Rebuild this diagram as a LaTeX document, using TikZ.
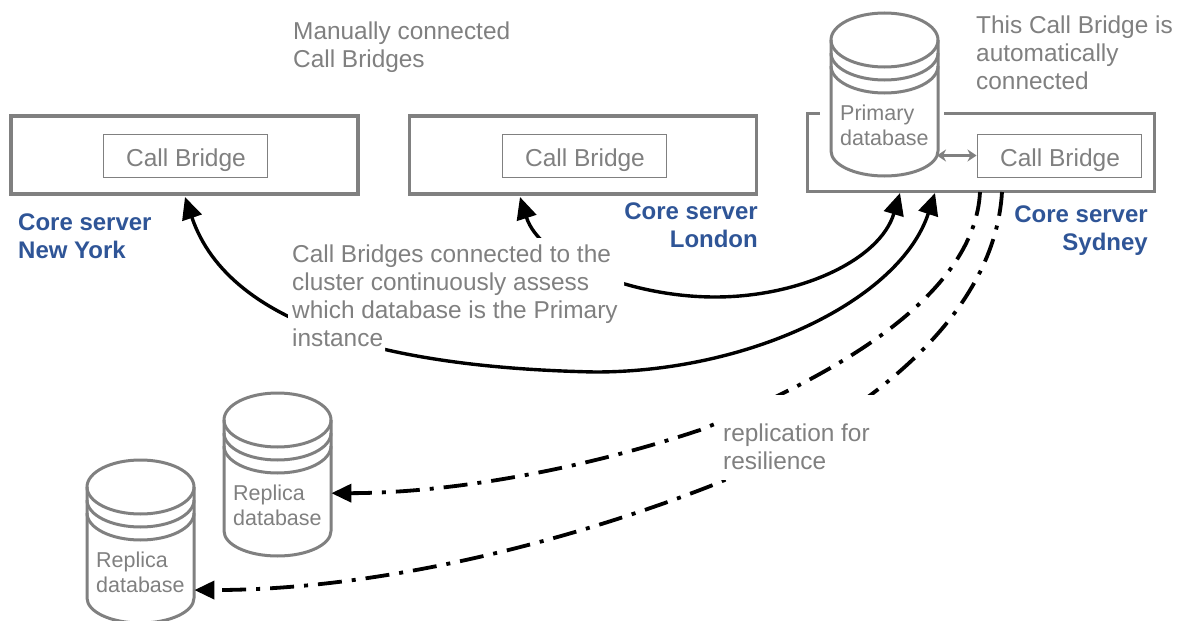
\documentclass[tikz,border=0pt]{standalone}
\usepackage{fontspec}
\setmainfont{Liberation Sans}
\usetikzlibrary{arrows.meta}
\definecolor{notegray}{RGB}{128,128,128}
\definecolor{coreblue}{RGB}{47,85,151}
\tikzset{
    server/.style={draw=notegray, line width=3.5pt, minimum width=347pt, minimum height=78pt, inner sep=0pt},
    bridge/.style={draw=notegray, line width=1pt, minimum width=164pt, minimum height=43pt, inner sep=0pt, text height=21pt, text depth=0pt, text=notegray, font=\fontsize{24.5}{28}\selectfont},
    note/.style={anchor=north west, align=left, inner sep=0pt, text=notegray, font=\fontsize{24.4}{28}\selectfont},
    corename/.style={inner sep=0pt, text=coreblue, font=\fontsize{24}{28}\selectfont\bfseries},
    dbframe/.style={anchor=north west, minimum width=107pt, minimum height=163pt, inner sep=0pt},
    dbline/.style={draw=notegray, line width=3pt},
    dbtext/.style={anchor=north west, align=left, inner sep=0pt, text=notegray, font=\fontsize{21.5}{25}\selectfont},
    assess/.style={line width=3.4pt, -{Triangle[length=22pt, width=20pt]}},
    replicate/.style={line width=3.8pt, dash pattern=on 24pt off 10pt on 4pt off 10pt, -{Triangle[length=20pt, width=18pt]}}
}
\newcommand{\dbstack}[4]{
    \node[dbframe] (#1) at (#2,#3) {};
    \fill[white] (#2,#3+27) rectangle (#2+107,#3+140);
    \fill[white] (#2+53.5,#3+27) ellipse (53.5pt and 27pt);
    \fill[white] (#2+53.5,#3+138) ellipse (53.5pt and 25pt);
    \draw[dbline] (#2,#3+27) -- (#2,#3+138) arc[start angle=180, end angle=360, x radius=53.5pt, y radius=25pt] -- (#2+107,#3+27);
    \draw[dbline] (#2+53.5,#3+27) ellipse (53.5pt and 27pt);
    \draw[dbline] (#2,#3+40) arc[start angle=180, end angle=360, x radius=53.5pt, y radius=27pt];
    \draw[dbline] (#2,#3+53) arc[start angle=180, end angle=360, x radius=53.5pt, y radius=27pt];
    \node[dbtext] (#1text) at (#2+9,#3+92) {#4};
}
\begin{document}
\begin{tikzpicture}[x=1pt, y=-1pt]
    \useasboundingbox (0,0) rectangle (1179,621);
    \fill[white] (0,0) rectangle (1179,621);

    \node[server] (nyserver) at (184.5,155) {};
    \node[server] (londonserver) at (583,155) {};
    \node[server] (sydneyserver) at (981,152.5) {};
    \node[bridge] (nybridge) at (185,155.5) {\hspace{2pt}Call Bridge};
    \node[bridge] (londonbridge) at (584,155.5) {\hspace{2pt}Call Bridge};
    \node[bridge] (sydneybridge) at (1059,155.5) {\hspace{2pt}Call Bridge};

    \fill[white] (820,108) rectangle (944,120);
    \dbstack{primary}{831}{13}{Primary\\database}
    \dbstack{replicaone}{224}{393}{Replica\\database}
    \dbstack{replicatwo}{87}{460}{Replica\\database}

    \draw[notegray, line width=3pt, {Stealth[length=9pt, width=12pt]}-{Stealth[length=9pt, width=12pt]}] (937,155.5) -- (sydneybridge.west);

    \coordinate (nyin) at (185,197);
    \coordinate (londonin) at (520,197);
    \coordinate (sydneyina) at (900,193);
    \coordinate (sydneyinb) at (935,193);
    \coordinate (nyjoin) at (595,372);
    \coordinate (londonjoin) at (715,297);
    \coordinate (replicaouta) at (980,192);
    \coordinate (replicaoutb) at (1002,192);
    \coordinate (replicajoina) at (700,430);
    \coordinate (replicajoinb) at (718,483);

    \draw[assess] (nyjoin) .. controls (400,368) and (230,330) .. (nyin);
    \draw[assess] (nyjoin) .. controls (750,372) and (900,300) .. (sydneyinb);
    \draw[assess] (londonjoin) .. controls (630,297) and (540,260) .. (londonin);
    \draw[assess] (londonjoin) .. controls (800,297) and (880,260) .. (sydneyina);
    \draw[replicate] (replicaouta) .. controls (975,290) and (850,370) .. (replicajoina) .. controls (580,470) and (450,493) .. (replicaone.-19);
    \draw[replicate] (replicaoutb) .. controls (995,310) and (880,410) .. (replicajoinb) .. controls (600,530) and (400,590) .. (replicatwo.-42);

    \fill[white] (288,238) rectangle (624,324) (288,324) rectangle (385,352);
    \fill[white] (715,395) rectangle (885,480);

    \node[note] (manualnote) at (293,22) {Manually connected\\Call Bridges};
    \node[note] (autonote) at (976,16) {This Call Bridge is\\automatically\\connected};
    \node[note] (assessnote) at (292,245) {Call Bridges connected to the\\cluster continuously assess\\which database is the Primary\\instance};
    \node[note] (replicationnote) at (723,424) {replication for\\resilience};

    \node[corename, anchor=north west, align=left] (nyname) at (18,214) {Core server\\New York};
    \node[corename, anchor=north east, align=right] (londonname) at (758,203) {Core server\\London};
    \node[corename, anchor=north east, align=right] (sydneyname) at (1148,206) {Core server\\Sydney};
\end{tikzpicture}
\end{document}
